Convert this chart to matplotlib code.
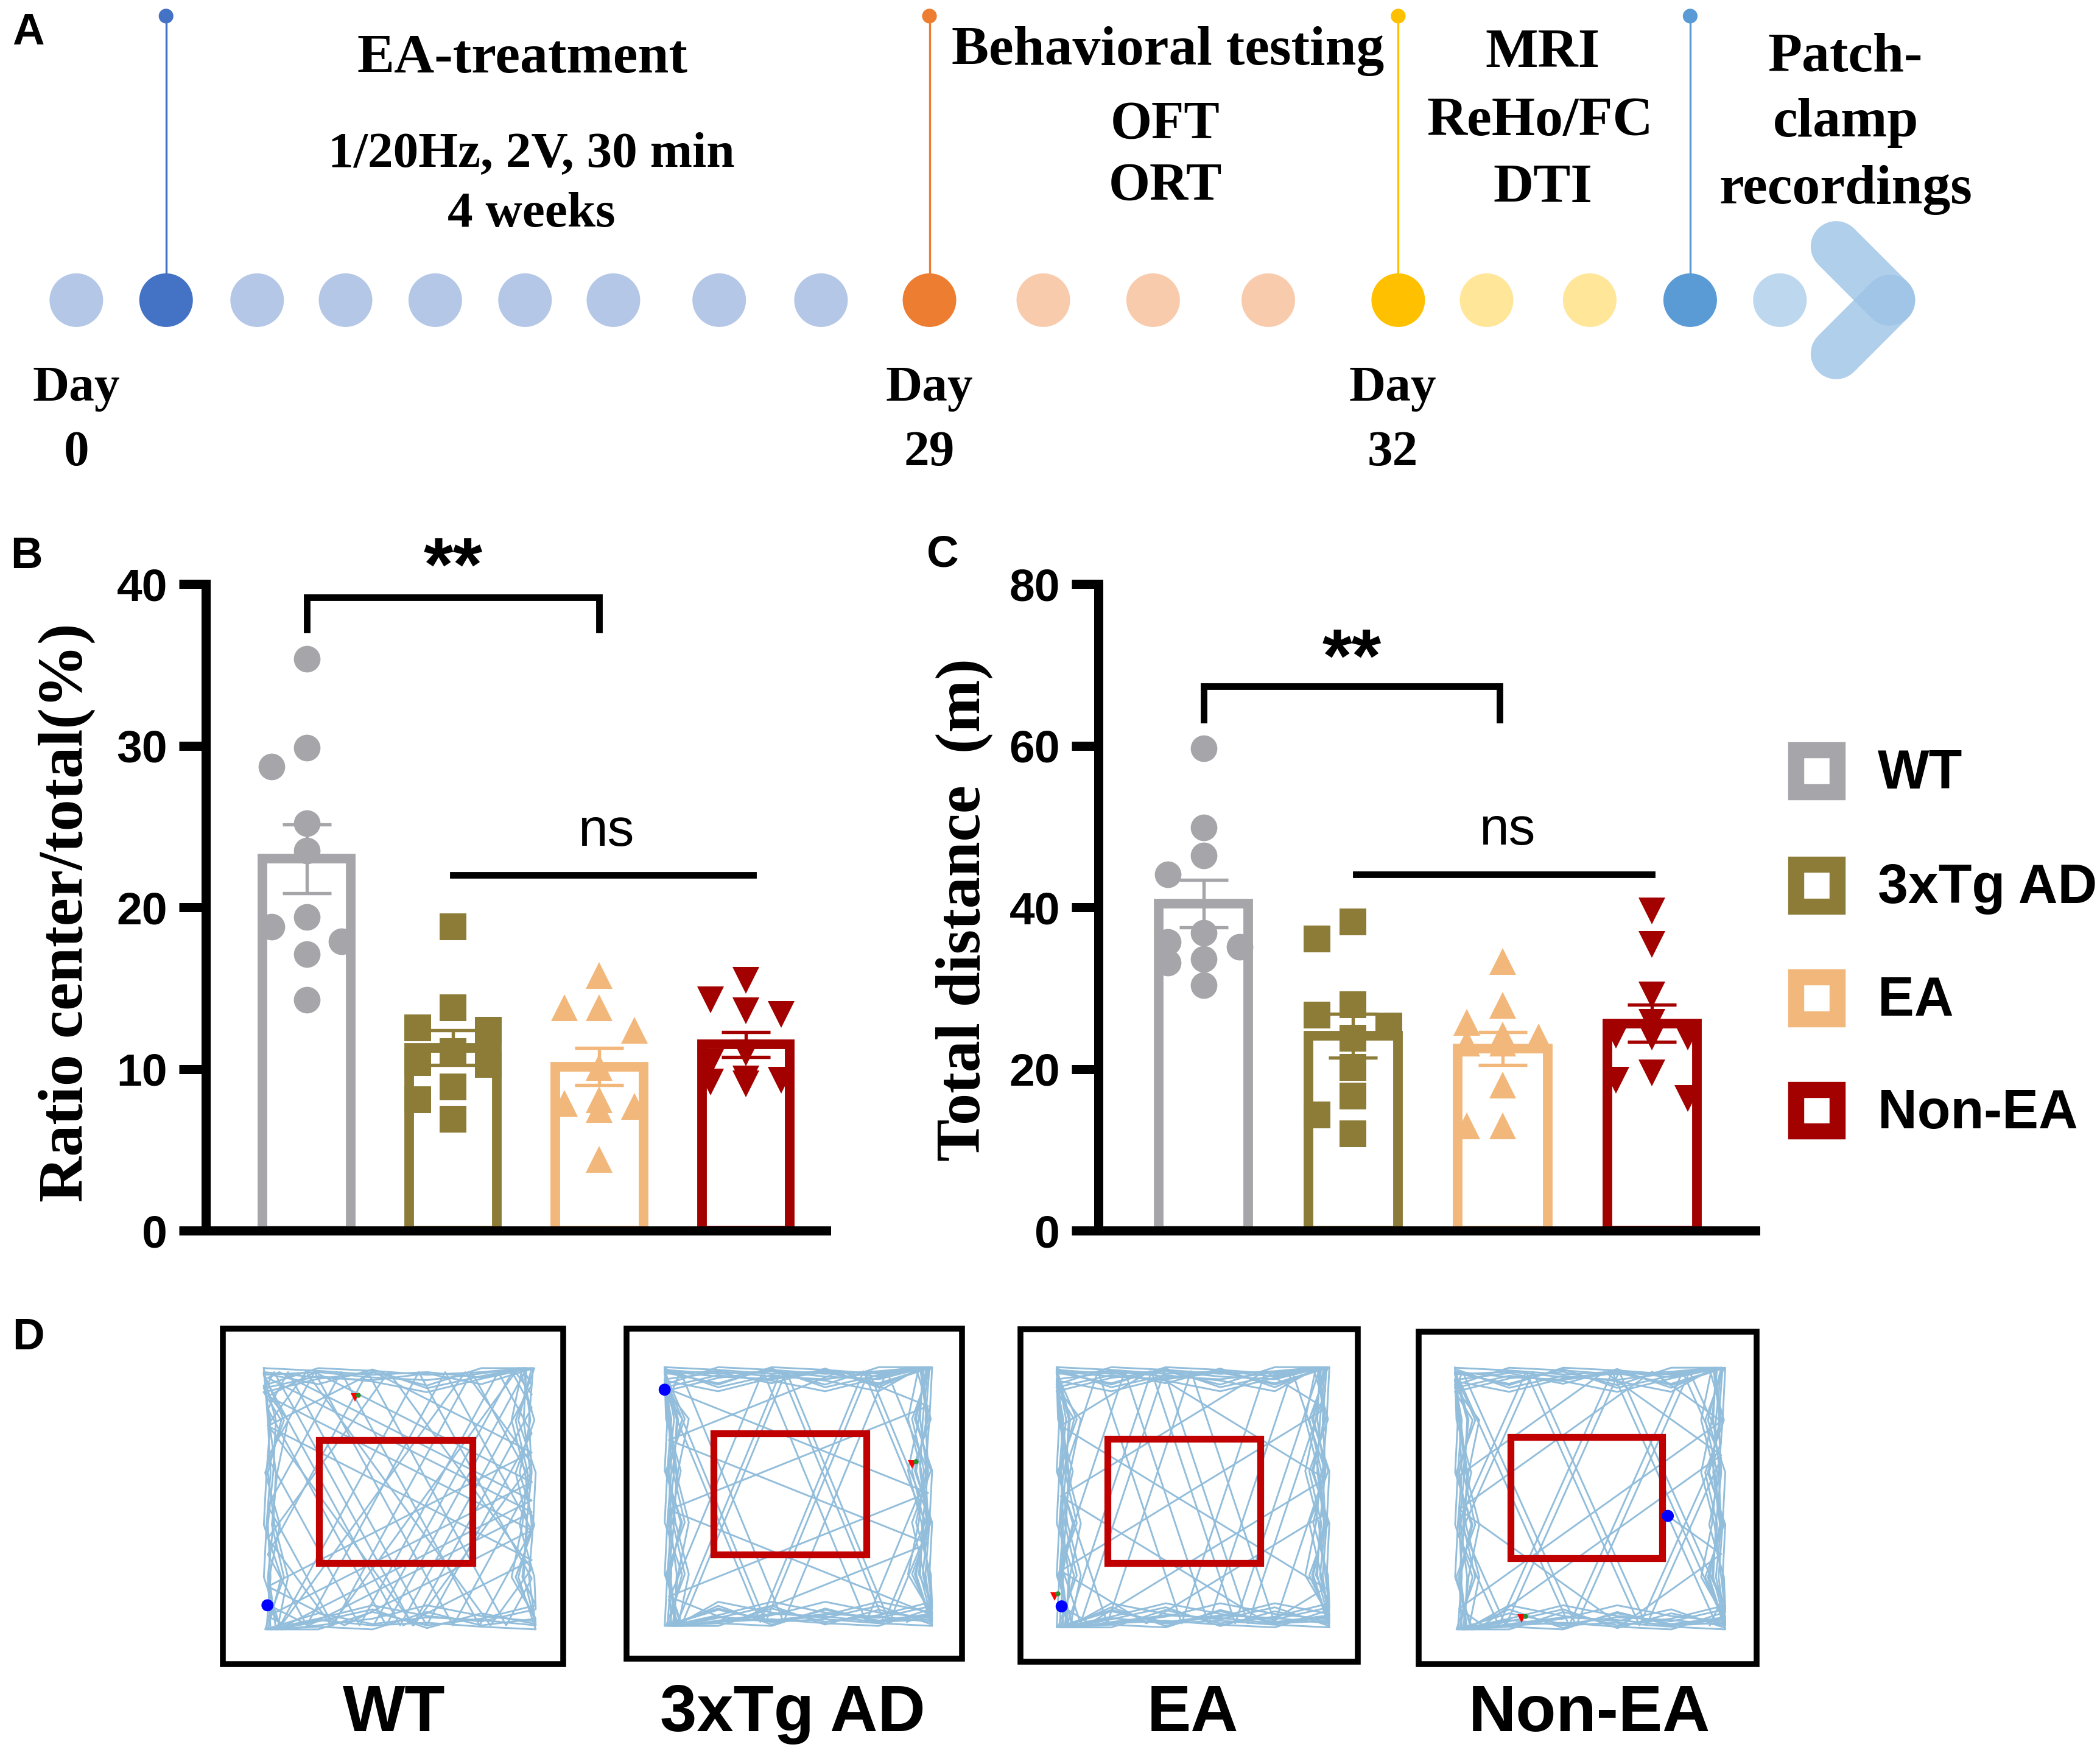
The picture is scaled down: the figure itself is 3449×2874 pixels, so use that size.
import numpy as np
import matplotlib
matplotlib.use('Agg')
import matplotlib.pyplot as plt
from matplotlib.patches import Circle, Rectangle

# Layout grid: px of a 1568 x 1306 view of the whole figure (y downwards)
W, H = 1568, 1306
PT = 2874 / 300 * 72 / H          # points per layout px

SANS = ['Liberation Sans', 'DejaVu Sans']
SERIF = ['Liberation Serif', 'DejaVu Serif']
plt.rcParams['font.family'] = SANS

# ============================================================
# data
# ============================================================
groups = ['WT', '3xTg AD', 'EA', 'Non-EA']
group_colors = ['#A6A6AA', '#8C7C38', '#F2B77B', '#A30000']
group_markers = ['o', 's', '^', 'v']

# B: ratio center / total (%)
ratio_wt = [35.4, 29.9, 28.7, 25.2, 23.5, 19.4, 18.8, 17.9, 17.1, 14.3]
ratio_tg = [18.8, 13.8, 12.55, 12.4, 11.1, 10.4, 10.3, 8.9, 8.1, 6.9]
ratio_ea = [15.8, 13.8, 13.8, 12.4, 10.1, 8.1, 7.9, 7.7, 7.5, 4.4]
ratio_non = [15.5, 14.3, 13.6, 13.4, 11.0, 10.4, 9.4, 9.3, 9.2, 9.1]

# C: total distance (m)
dist_wt = [59.7, 49.9, 46.4, 44.1, 36.9, 35.7, 35.1, 33.6, 33.2, 30.4]
dist_tg = [38.2, 36.1, 28.0, 26.7, 25.3, 23.8, 20.2, 16.7, 14.3, 12.0]
dist_ea = [33.3, 27.9, 25.8, 24.2, 24.0, 23.2, 23.2, 18.0, 13.0, 13.0]
dist_non = [39.6, 35.4, 29.2, 25.8, 24.2, 24.0, 24.0, 19.5, 18.6, 16.4]

ratio_data = [ratio_wt, ratio_tg, ratio_ea, ratio_non]
dist_data = [dist_wt, dist_tg, dist_ea, dist_non]

# A: timeline dots
LB, DB, OR, LO, GD, LY, MB, PB = ('#B4C7E7', '#4472C4', '#ED7D31', '#F8CBAD',
                                  '#FFC000', '#FFE699', '#5B9BD5', '#BDD7EE')
tl_colors = [LB, DB, LB, LB, LB, LB, LB, LB, LB, OR, LO, LO, LO, GD, LY, LY, MB, PB]
tl_x = [57, 124, 192, 258, 325, 392, 458, 537, 613, 694, 779, 861, 947, 1044,
        1110, 1187, 1262, 1329]

fig = plt.figure(figsize=(3449 / 300, 2874 / 300), dpi=300)
ax0 = fig.add_axes([0, 0, 1, 1])
ax0.set_xlim(0, W)
ax0.set_ylim(H, 0)
ax0.axis('off')


def fig_rect(x0, y0, x1, y1):
    return [x0 / W, 1 - y1 / H, (x1 - x0) / W, (y1 - y0) / H]


def panel_letter(x, y, s):
    ax0.text(x, y, s, fontsize=17.5, fontweight='bold', ha='left', va='baseline')


# ============================================================
# A: timeline
# ============================================================
TL_Y = 224
for i, (x, c) in enumerate(zip(tl_x, tl_colors)):
    if c in (DB, OR, GD, MB):
        ax0.plot([x, x], [TL_Y, 12], color=c, lw=0.8, zorder=1)
        ax0.add_patch(Circle((x, 12), 5.5, color=c, lw=0, zorder=2))
    ax0.add_patch(Circle((x, TL_Y), 20, color=c, lw=0, zorder=2))

# chevron arrow
for xs, ys in (([1371, 1411], [184, 224]), ([1411, 1371], [224, 264])):
    ax0.plot(xs, ys, color='#9DC3E6', lw=38 * PT, alpha=0.8,
             solid_capstyle='round', zorder=2)

def serif(x, y, s, size=22):
    ax0.text(x, y, s, family=SERIF, fontweight='bold', fontsize=size,
             ha='center', va='baseline')

serif(390, 54, 'EA-treatment')
serif(397, 124, '1/20Hz, 2V, 30 min', 20)
serif(397, 169, '4 weeks', 20)
serif(872, 48, 'Behavioral testing')
serif(870, 103, 'OFT', 21)
serif(870, 149, 'ORT', 21)
serif(1152, 50, 'MRI')
serif(1150, 101, 'ReHo/FC')
serif(1152, 151, 'DTI')
serif(1378, 53, 'Patch-')
serif(1378, 102, 'clamp')
serif(1378, 152, 'recordings')
for x, d in ((57, '0'), (694, '29'), (1040, '32')):
    serif(x, 299, 'Day', 20)
    serif(x, 347, d, 20)

panel_letter(9, 33, 'A')

# ============================================================
# B / C: bar + scatter panels
# ============================================================
MS = 10.5


def swarm(ax, vals, step=0.24):
    ppu = ax.transData.transform((0, 1))[1] - ax.transData.transform((0, 0))[1]
    diam = MS * fig.dpi / 72 * 0.95
    y_px = np.asarray(vals) * ppu
    offs = np.zeros(len(vals))
    placed = []
    for i in np.argsort(-np.asarray(vals), kind='stable'):
        best_k, best_gap = 0, -1
        for k in (0, -1, 1):
            gaps = [abs(y_px[i] - py) for pk, py in placed if pk == k]
            gap = min(gaps) if gaps else np.inf
            if gap >= diam:
                best_k = k
                break
            if gap > best_gap:
                best_k, best_gap = k, gap
        placed.append((best_k, y_px[i]))
        offs[i] = best_k * step
    return offs


def bar_panel(rect, data, xlim, ymax, yticks):
    ax = fig.add_axes(fig_rect(*rect))
    ax.set_facecolor('none')
    ax.set_xlim(*xlim)
    ax.set_ylim(0, ymax)
    for i, (vals, c, m) in enumerate(zip(data, group_colors, group_markers)):
        vals = np.asarray(vals, dtype=float)
        mean = vals.mean()
        sem = vals.std(ddof=1) / np.sqrt(len(vals))
        ax.bar(i, mean, width=0.6, facecolor='white', edgecolor=c,
               linewidth=3.8, zorder=2)
        ax.plot(i + swarm(ax, vals), vals, ls='none', marker=m, ms=MS,
                mfc=c, mec='none', zorder=3, clip_on=False)
        ax.errorbar(i, mean, yerr=sem, fmt='none', ecolor=c, elinewidth=1.3,
                    capsize=9.5, capthick=1.3, zorder=4)
    for s in ('top', 'right'):
        ax.spines[s].set_visible(False)
    for s in ('left', 'bottom'):
        ax.spines[s].set_linewidth(3.6)
        ax.spines[s].set_zorder(5)
    ax.set_xticks([])
    ax.set_yticks(yticks)
    ax.tick_params(axis='y', length=10.5, width=3.6, pad=4.5, labelsize=18)
    for lbl in ax.get_yticklabels():
        lbl.set_fontweight('bold')
    return ax


def bracket(ax, x0, x1, y, ydrop, txt, ytxt):
    ax.plot([x0, x0, x1, x1], [ydrop, y, y, ydrop], color='black', lw=2.6,
            solid_joinstyle='miter', clip_on=False)
    ax.text((x0 + x1) / 2, ytxt, txt, fontsize=30, fontweight='bold',
            ha='center', va='baseline', clip_on=False)


def ns_line(ax, x0, x1, y, ytxt):
    ax.plot([x0, x1], [y, y], color='black', lw=2.6, clip_on=False)
    ax.text((x0 + x1) / 2 + 0.02, ytxt, 'ns', fontsize=21, ha='center',
            va='baseline', clip_on=False)


axB = bar_panel((153.5, 436, 617, 918.5), ratio_data, (-0.69, 3.55), 40,
                [0, 10, 20, 30, 40])
bracket(axB, 0, 2, 39.2, 37.2, '**', 39.6)
ns_line(axB, 1, 3.05, 22.0, 23.8)

axC = bar_panel((820, 436, 1310.6, 918.5), dist_data, (-0.705, 3.69), 80,
                [0, 20, 40, 60, 80])
bracket(axC, 0, 1.98, 67.4, 63.2, '**', 67.9)
ns_line(axC, 1.02, 3.0, 44.1, 47.8)

ax0.text(50, 681, 'Ratio center/total(%)', family=SERIF, fontweight='bold',
         fontsize=25, rotation=90, ha='center', va='center')
ax0.text(720, 679, 'Total distance  (m)', family=SERIF, fontweight='bold',
         fontsize=25, rotation=90, ha='center', va='center')

panel_letter(8, 424, 'B')
panel_letter(692, 423, 'C')

# legend
leg_y = [575.5, 661, 745, 829]
for y, g, c in zip(leg_y, groups, group_colors):
    ax0.add_patch(Rectangle((1341, y - 15.5), 31, 31, facecolor='white',
                            edgecolor=c, lw=12 * PT, joinstyle='miter'))
    ax0.text(1402, y + 13, g, fontsize=21.5, fontweight='bold', ha='left',
             va='baseline')

# ============================================================
# D: open-field tracks
# ============================================================
def billiard(x0, y0, x1, y1, px, py, ang, n):
    xs, ys = [px], [py]
    dx, dy = np.cos(ang), np.sin(ang)
    for _ in range(n):
        tx = ((x1 if dx > 0 else x0) - px) / dx
        ty = ((y1 if dy > 0 else y0) - py) / dy
        t = min(tx, ty)
        px, py = px + dx * t, py + dy * t
        if tx < ty:
            dx = -dx
        else:
            dy = -dy
        xs.append(px)
        ys.append(py)
    return xs, ys


insets = [0, 2, 5, 3, 7, 9, 4, 12, 1, 15, 6, 10, 18, 8, 3, 13]


def wall_loop(x0, y0, x1, y1, k, nseg=5):
    xs, ys = [], []
    m = len(insets)
    for side in range(4):
        for j in range(nseg):
            t = j / nseg
            d = insets[(k * 3 + side * nseg + j) % m]
            if side == 0:
                xs.append(x0 + t * (x1 - x0)); ys.append(y0 + d)
            elif side == 1:
                xs.append(x1 - d); ys.append(y0 + t * (y1 - y0))
            elif side == 2:
                xs.append(x1 - t * (x1 - x0)); ys.append(y1 - d)
            else:
                xs.append(x0 + d); ys.append(y1 - t * (y1 - y0))
    xs.append(xs[0]); ys.append(ys[0])
    return xs, ys


arenas = [
    # box, trace area, centre zone, start dot, end mark, label x, walks
    dict(box=(166.6, 991.5, 420.4, 1241.7), area=(197, 1021, 400, 1216),
         zone=(238, 1074.5, 353, 1166.5), start=(199.7, 1198), end=(265, 1043),
         lx=294, walks=[(1.07, 34), (0.47, 18), (2.2, 14)], loops=7),
    dict(box=(467.7, 991.6, 718.1, 1238), area=(496.3, 1020.3, 696, 1213.4),
         zone=(533, 1069.5, 647, 1160), start=(496.3, 1037.1), end=(681.2, 1092.7),
         lx=591.7, walks=[(1.18, 20), (0.38, 10)], loops=12),
    dict(box=(762.1, 992, 1014, 1240), area=(789, 1020.3, 992.6, 1214.5),
         zone=(827, 1074, 941, 1166.5), start=(792.7, 1198.8), end=(787.3, 1191.4),
         lx=890.8, walks=[(1.25, 20), (0.55, 12)], loops=12),
    dict(box=(1059.4, 993.8, 1311.4, 1241.7), area=(1086.5, 1020.7, 1288.2, 1216),
         zone=(1128, 1072.5, 1241, 1163), start=(1245.3, 1131.3), end=(1136.3, 1208),
         lx=1186.8, walks=[(1.15, 22), (0.62, 10)], loops=11),
]
TRACE = '#93BEDB'

for a, g in zip(arenas, groups):
    bx0, by0, bx1, by1 = a['box']
    ax0.add_patch(Rectangle((bx0, by0), bx1 - bx0, by1 - by0, fill=False,
                            edgecolor='black', lw=2.3, joinstyle='miter'))
    x0, y0, x1, y1 = a['area']
    for k in range(a['loops']):
        xs, ys = wall_loop(x0, y0, x1, y1, k)
        ax0.plot(xs, ys, color=TRACE, lw=0.7, zorder=3)
    px, py = a['start']
    for ang, n in a['walks']:
        xs, ys = billiard(x0 + 3, y0 + 3, x1 - 3, y1 - 3,
                          min(max(px, x0 + 4), x1 - 4), min(max(py, y0 + 4), y1 - 4),
                          ang, n)
        ax0.plot(xs, ys, color=TRACE, lw=0.7, zorder=3)
    zx0, zy0, zx1, zy1 = a['zone']
    ax0.add_patch(Rectangle((zx0, zy0), zx1 - zx0, zy1 - zy0, fill=False,
                            edgecolor='#C00000', lw=2.7, joinstyle='miter', zorder=4))
    ax0.add_patch(Circle(a['start'], 4.5, color='#0000FF', lw=0, zorder=5))
    ex, ey = a['end']
    ax0.plot(ex, ey, marker='v', ms=3.5, color='#FF0000', mec='none', zorder=6)
    ax0.plot(ex + 2.5, ey - 2, marker='o', ms=2, color='#2E8B2E', mec='none', zorder=6)
    ax0.text(a['lx'], 1292, g, fontsize=26, fontweight='bold', ha='center',
             va='baseline')

panel_letter(9, 1007, 'D')

fig.savefig('out.png', dpi=300, facecolor='white')
